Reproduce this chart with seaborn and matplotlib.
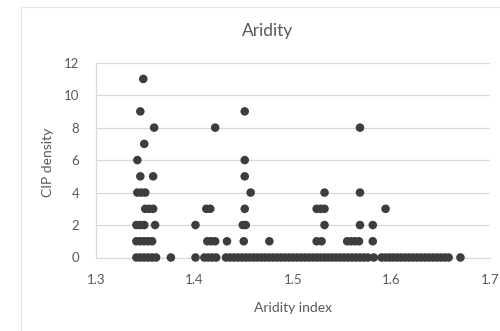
import matplotlib
matplotlib.use("Agg")
import matplotlib.pyplot as plt
import seaborn as sns
import pandas as pd
from matplotlib.patches import Rectangle

# Aridity index and CIP density for each site
aridity_index = [
    # density 11
    1.348,
    # density 9
    1.345, 1.451,
    # density 8
    1.359, 1.421, 1.568,
    # density 7
    1.349,
    # density 6
    1.342, 1.451,
    # density 5
    1.345, 1.358, 1.451,
    # density 4
    1.342, 1.346, 1.350, 1.457, 1.532, 1.568,
    # density 3
    1.350, 1.354, 1.358, 1.412, 1.416, 1.451, 1.524, 1.528, 1.532, 1.594,
    # density 2
    1.341, 1.345, 1.349, 1.360, 1.401, 1.449, 1.452, 1.532, 1.568, 1.581,
    # density 1
    1.341, 1.345, 1.349, 1.353, 1.357, 1.413, 1.417, 1.421, 1.433, 1.450,
    1.476, 1.524, 1.529, 1.555, 1.559, 1.563, 1.567, 1.581,
    # density 0
    1.341, 1.345, 1.349, 1.353, 1.357, 1.361, 1.376, 1.401,
    1.410, 1.414, 1.418, 1.422, 1.432, 1.436, 1.440, 1.444,
    1.448, 1.452, 1.456, 1.460, 1.464, 1.468, 1.472, 1.476, 1.480, 1.484,
    1.488, 1.492, 1.496, 1.500, 1.504, 1.508, 1.512, 1.516, 1.520, 1.524,
    1.528, 1.532, 1.536, 1.540, 1.544, 1.548, 1.552, 1.556, 1.560, 1.564,
    1.568, 1.572, 1.576, 1.582,
    1.590, 1.594, 1.598, 1.602, 1.606, 1.610, 1.614, 1.618, 1.622,
    1.626, 1.630, 1.634, 1.638, 1.642, 1.646, 1.650, 1.654, 1.658,
    1.670,
]

cip_density = (
    [11]
    + [9] * 2
    + [8] * 3
    + [7]
    + [6] * 2
    + [5] * 3
    + [4] * 6
    + [3] * 10
    + [2] * 10
    + [1] * 18
    + [0] * 69
)

x_ticks = [1.3, 1.4, 1.5, 1.6, 1.7]
x_tick_labels = ["1.3", "1.4", "1.5", "1.6", "1.7"]
y_ticks = [0, 2, 4, 6, 8, 10, 12]

df = pd.DataFrame({"Aridity index": aridity_index, "CIP density": cip_density})

sns.set_style("white")
plt.rcParams["font.family"] = ["Lato", "DejaVu Sans"]

text_color = "#595959"
grid_color = "#d9d9d9"

fig = plt.figure(figsize=(5.0, 3.31), dpi=100)
ax = fig.add_axes([96 / 500, 1 - 257.5 / 331, (490 - 96) / 500, (257.5 - 62.7) / 331])

# chart area outline
fig.patches.append(Rectangle((21 / 500, -0.1), 1.2, 1 - 7 / 331 + 0.1,
                             transform=fig.transFigure, fill=False,
                             edgecolor="#e3e3e3", linewidth=0.9))

sns.scatterplot(data=df, x="Aridity index", y="CIP density", ax=ax,
                color="#3d3d3d", s=38, edgecolor="none", legend=False, zorder=3,
                clip_on=False)

ax.set_xlim(1.3, 1.7)
ax.set_ylim(0, 12)
ax.set_xticks(x_ticks)
ax.set_xticklabels(x_tick_labels)
ax.set_yticks(y_ticks)
ax.yaxis.grid(True, color=grid_color, linewidth=0.9)
ax.xaxis.grid(False)
ax.set_axisbelow(True)

for side in ["top", "right"]:
    ax.spines[side].set_visible(False)
for side in ["left", "bottom"]:
    ax.spines[side].set_color(grid_color)
    ax.spines[side].set_linewidth(0.9)

ax.tick_params(axis="both", length=0, labelsize=9.5, labelcolor=text_color)
ax.tick_params(axis="x", pad=12)
ax.tick_params(axis="y", pad=12)

ax.set_xlabel("")
ax.set_ylabel("")
fig.text(293 / 500, 1 - 308 / 331, "Aridity index", ha="center", va="center",
         fontsize=10, color=text_color)
fig.text(48 / 500, 1 - 162 / 331, "CIP density", ha="center", va="center",
         rotation=90, fontsize=10, color=text_color)
fig.text(268 / 500, 1 - 31 / 331, "Aridity", ha="center", va="center",
         fontsize=12.5, color=text_color)

fig.savefig("out.png", dpi=100)
